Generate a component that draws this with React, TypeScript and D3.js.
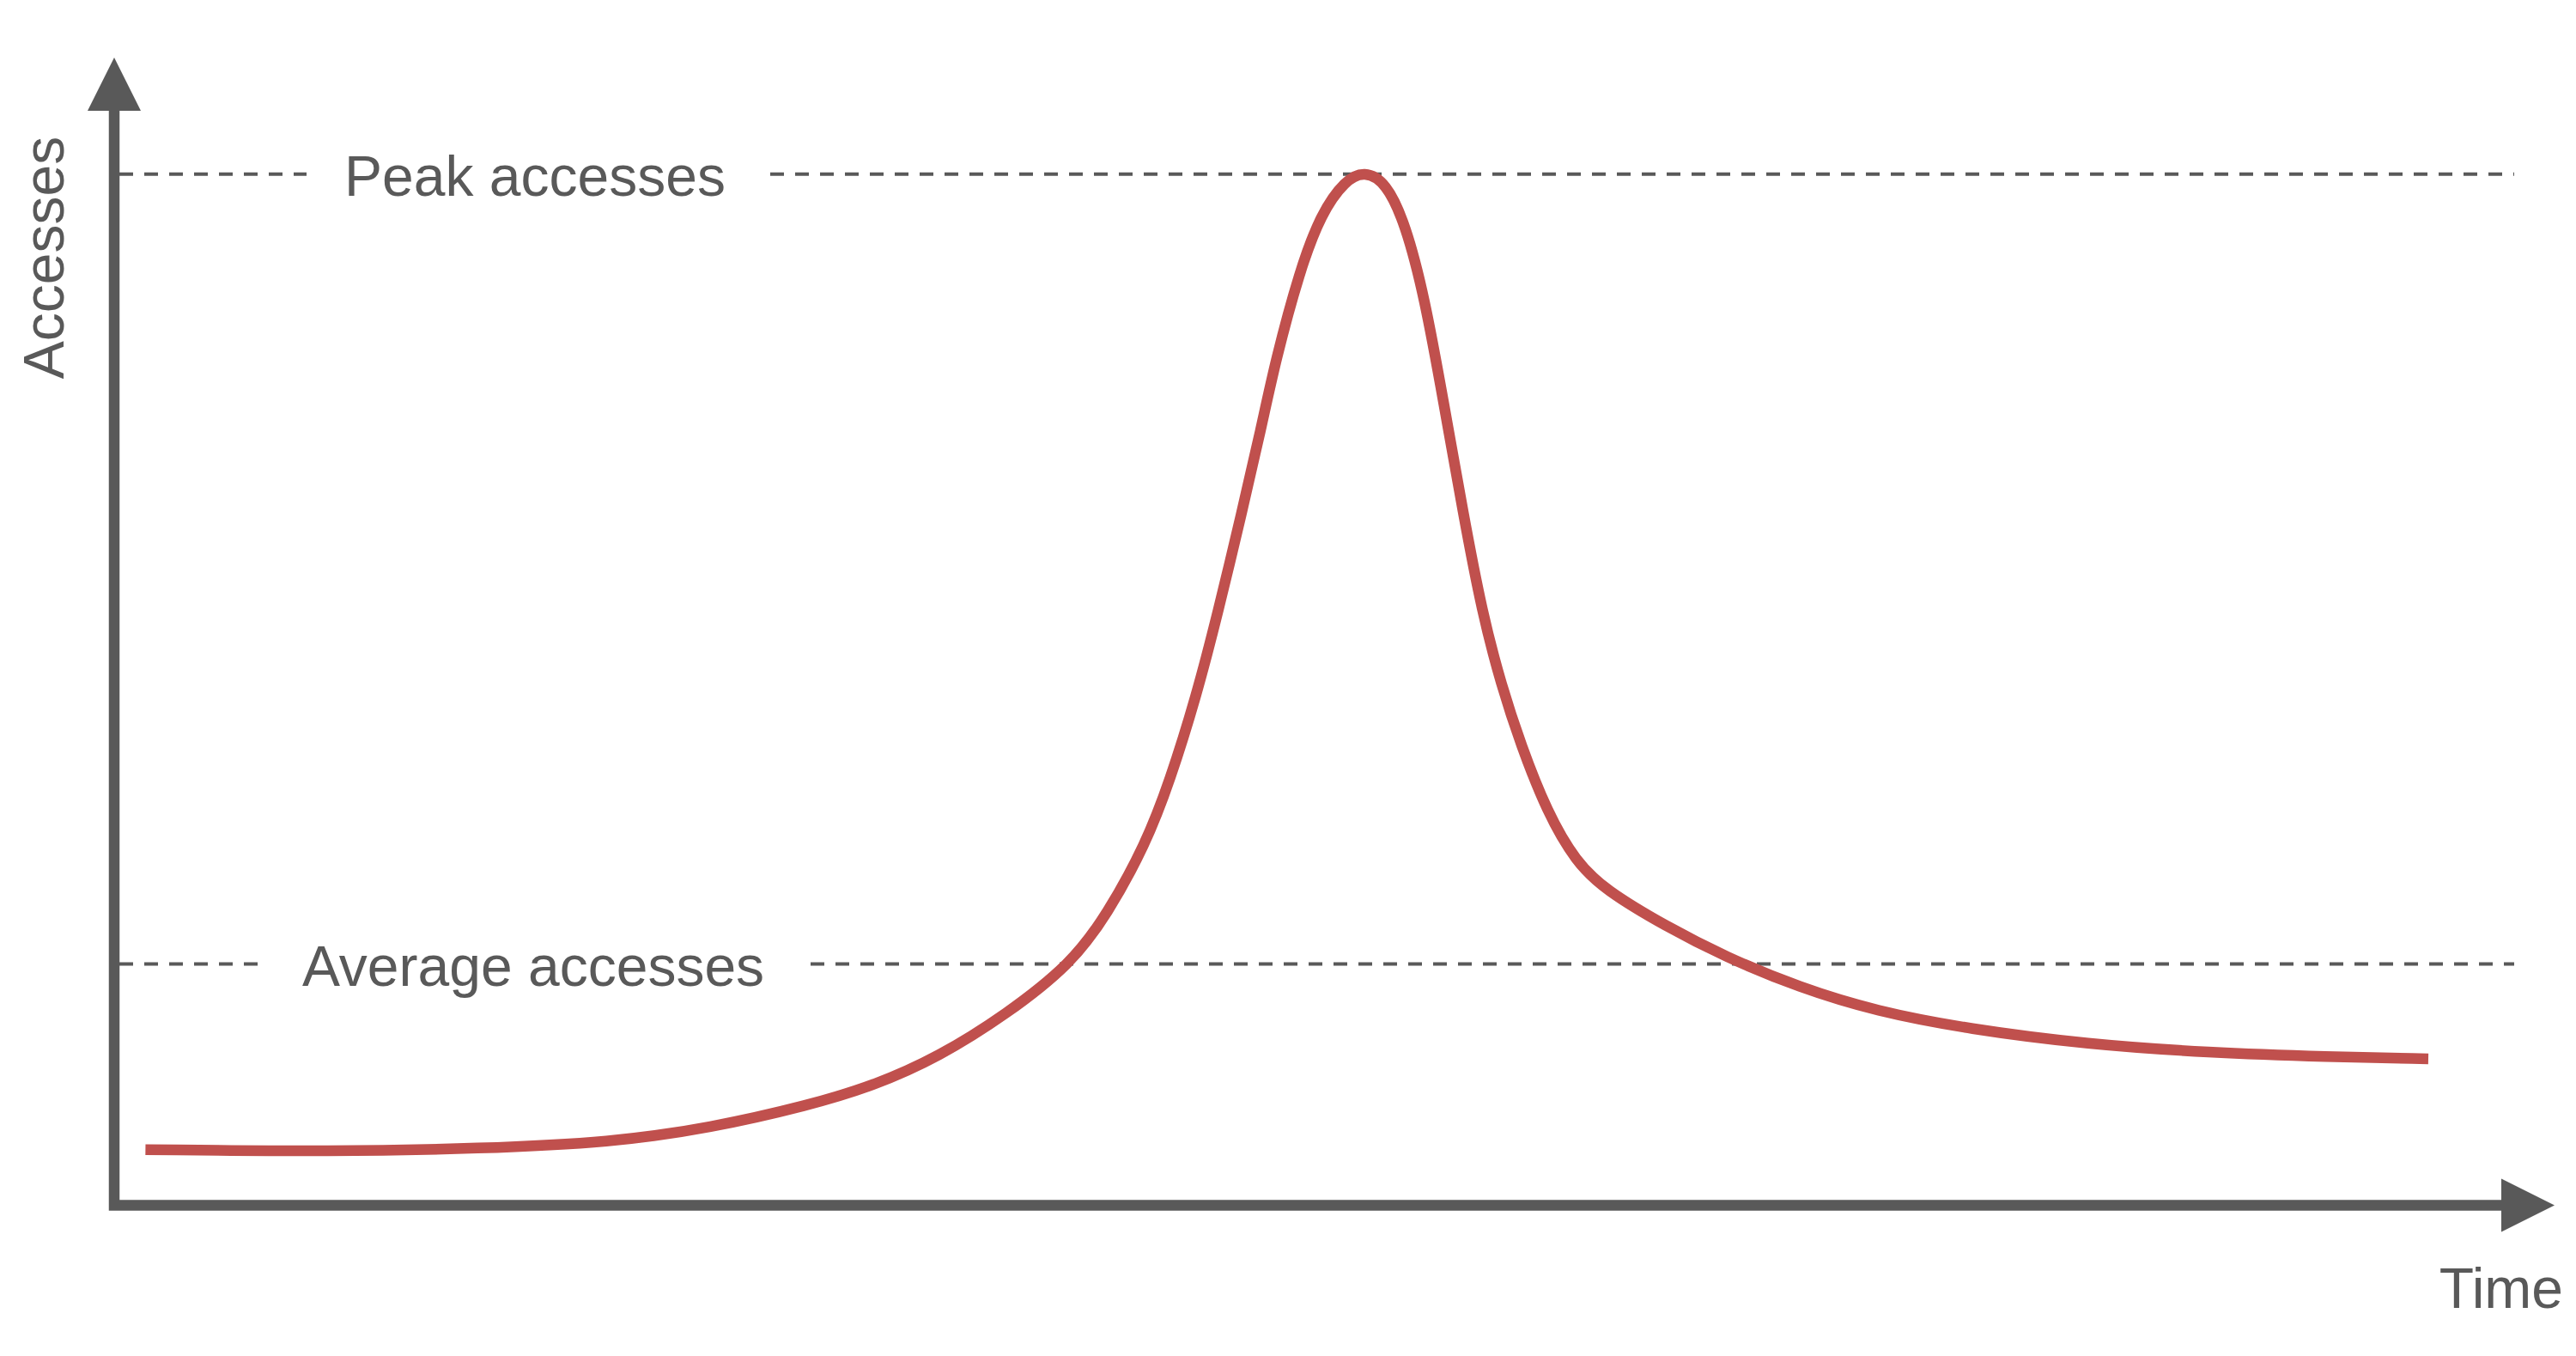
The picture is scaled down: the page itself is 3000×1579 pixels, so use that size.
import React from "react";
import * as d3 from "d3";

// ---- Data (arbitrary units) ----
const timeValues: number[] = [
  1.3, 9.2, 15.2, 20.7, 24.8, 28.9, 31.6, 34.3, 37.1, 39.8, 41.3, 42.9,
  43.9, 45.0, 45.9, 46.9, 47.7, 48.3, 49.3, 50.2, 51.2, 52.0, 52.9, 53.7, 54.5,
  55.3, 56.1, 56.9, 57.7, 58.5, 59.6, 60.8, 62.0, 64.5, 67.0, 70.1, 73.3, 77.1,
  82.1, 87.1, 92.1, 96.25,
];
const accessValues: number[] = [
  5.4, 5.2, 5.5, 6.1, 7.5, 9.7, 11.6, 14.4, 18.5, 23.4, 28.2, 35.0,
  41.1, 49.3, 57.4, 67.2, 75.3, 81.9, 90.6, 96.2, 99.4, 100.3, 99.2, 95.2, 88.1,
  77.8, 67.2, 57.4, 50.4, 44.7, 38.1, 33.3, 30.6, 27.1, 24.1, 21.1, 18.8, 17.1,
  15.6, 14.8, 14.4, 14.2,
];
const peakValue = 100;
const averageValue = 23.4;
const refLabels = ["Peak accesses", "Average accesses"];
const xAxisLabel = "Time";
const yAxisLabel = "Accesses";

// ---- Layout ----
const W = 3000;
const H = 1579;
const axisColor = "#595959";
const lineColor = "#C0504D";
const font = "'Liberation Sans', Arial, sans-serif";

export default function App() {
  const x = d3.scaleLinear().domain([0, 100]).range([133, 2933]);
  const y = d3.scaleLinear().domain([0, 100]).range([1403.5, 202.7]);

  const data = timeValues.map((t, i) => [t, accessValues[i]] as [number, number]);
  const line = d3
    .line<[number, number]>()
    .x((d) => x(d[0]))
    .y((d) => y(d[1]))
    .curve(d3.curveBasis);

  const axisX = x(0);
  const axisY = y(0);
  const dashEnd = 2928;

  const refs = [
    { v: peakValue, label: refLabels[0], tx: 401, gap: [357, 897] },
    { v: averageValue, label: refLabels[1], tx: 352, gap: [303, 944] },
  ];

  return (
    <svg
      width={W}
      height={H}
      style={{ position: "absolute", left: 0, top: 0, background: "#fff" }}
    >
      <rect x={0} y={0} width={W} height={H} fill="#fff" />
      {refs.map((r, i) => {
        const yy = y(r.v);
        return (
          <g key={i}>
            <line
              x1={axisX + 6}
              x2={r.gap[0]}
              y1={yy}
              y2={yy}
              stroke={axisColor}
              strokeWidth={4}
              strokeDasharray="16 13"
            />
            <line
              x1={r.gap[1]}
              x2={dashEnd}
              y1={yy}
              y2={yy}
              stroke={axisColor}
              strokeWidth={4}
              strokeDasharray="16 13"
            />
            <text
              x={r.tx}
              y={yy + 25.5}
              fontFamily={font}
              fontSize={66}
              fill={axisColor}
            >
              {r.label}
            </text>
          </g>
        );
      })}
      <path
        d={line(data) || ""}
        fill="none"
        stroke={lineColor}
        strokeWidth={12.5}
        strokeLinecap="butt"
        strokeLinejoin="round"
      />
      <path
        d={`M${axisX},129 L${axisX},${axisY} L2914,${axisY}`}
        fill="none"
        stroke={axisColor}
        strokeWidth={12.5}
        strokeLinejoin="miter"
      />
      <polygon
        points={`${axisX},67 ${axisX - 31},129 ${axisX + 31},129`}
        fill={axisColor}
      />
      <polygon
        points={`2975,${axisY} 2913,${axisY - 31} 2913,${axisY + 31}`}
        fill={axisColor}
      />
      <text
        x={2985}
        y={1523}
        textAnchor="end"
        fontFamily={font}
        fontSize={66}
        fill={axisColor}
      >
        {xAxisLabel}
      </text>
      <text
        transform="translate(74,300) rotate(-90)"
        textAnchor="middle"
        fontFamily={font}
        fontSize={66}
        fill={axisColor}
      >
        {yAxisLabel}
      </text>
    </svg>
  );
}
